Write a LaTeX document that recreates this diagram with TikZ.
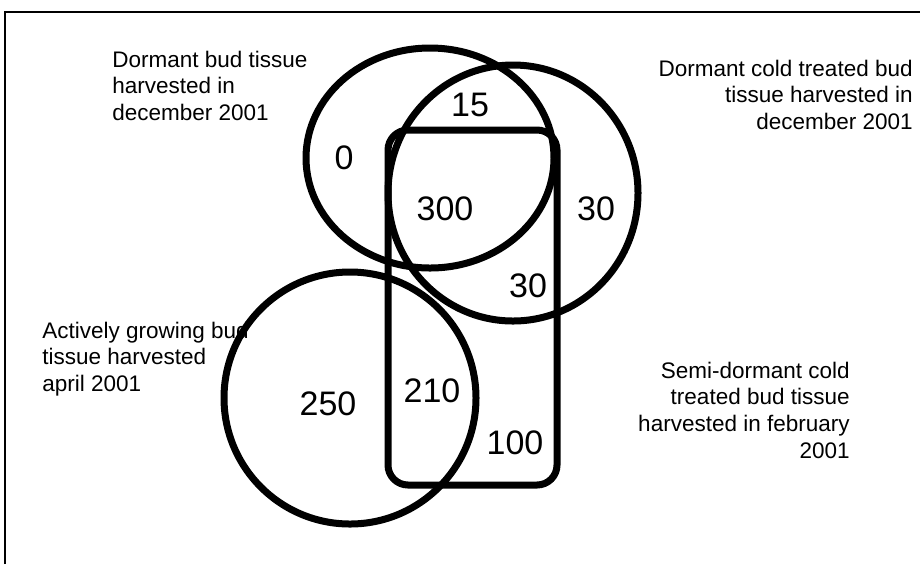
\documentclass[tikz,border=0pt]{standalone}
\usepackage{fontspec}
\setmainfont{Liberation Sans}

\begin{document}
\begin{tikzpicture}[x=0.5pt,y=-0.5pt,
  set/.style={line width=3.5pt},
  lbl/.style={inner sep=0pt,font=\fontsize{11.25}{13.35}\selectfont},
  cnt/.style={inner sep=0pt,font=\fontsize{17}{20}\selectfont}]
  \useasboundingbox (0,0) rectangle (920,564);
  \draw[line width=0.8pt] (5,564) -- (5,12) -- (920,12);
  \draw[set] (430,158) ellipse [x radius=124, y radius=110];
  \draw[set] (513,193) ellipse [x radius=125, y radius=128];
  \draw[set] (350,398) circle [radius=126];
  \draw[set,rounded corners=10pt] (388,130) rectangle (557,485);
  \node[lbl,anchor=north west,align=left] (dormant) at (112,50.5)
    {Dormant bud tissue\\harvested in\\december 2001};
  \node[lbl,anchor=north east,align=right] (coldtreated) at (913,59.5)
    {Dormant cold treated bud\\tissue harvested in\\december 2001};
  \node[lbl,anchor=north west,align=left] (growing) at (42,321.5)
    {Actively growing bud\\tissue harvested\\april 2001};
  \node[lbl,anchor=north east,align=right] (semidormant) at (850,361.5)
    {Semi-dormant cold\\treated bud tissue\\harvested in february\\2001};
  \foreach \n/\x/\y/\v in {only0/344/158/0,top15/470/105/15,core300/445/209/300,
    right30/596/209/30,low30/528/286/30,only250/328/404/250,mid210/432/391/210,
    only100/515/443/100} {
    \node[cnt] (\n) at (\x,\y) {\v};
  }
\end{tikzpicture}
\end{document}
